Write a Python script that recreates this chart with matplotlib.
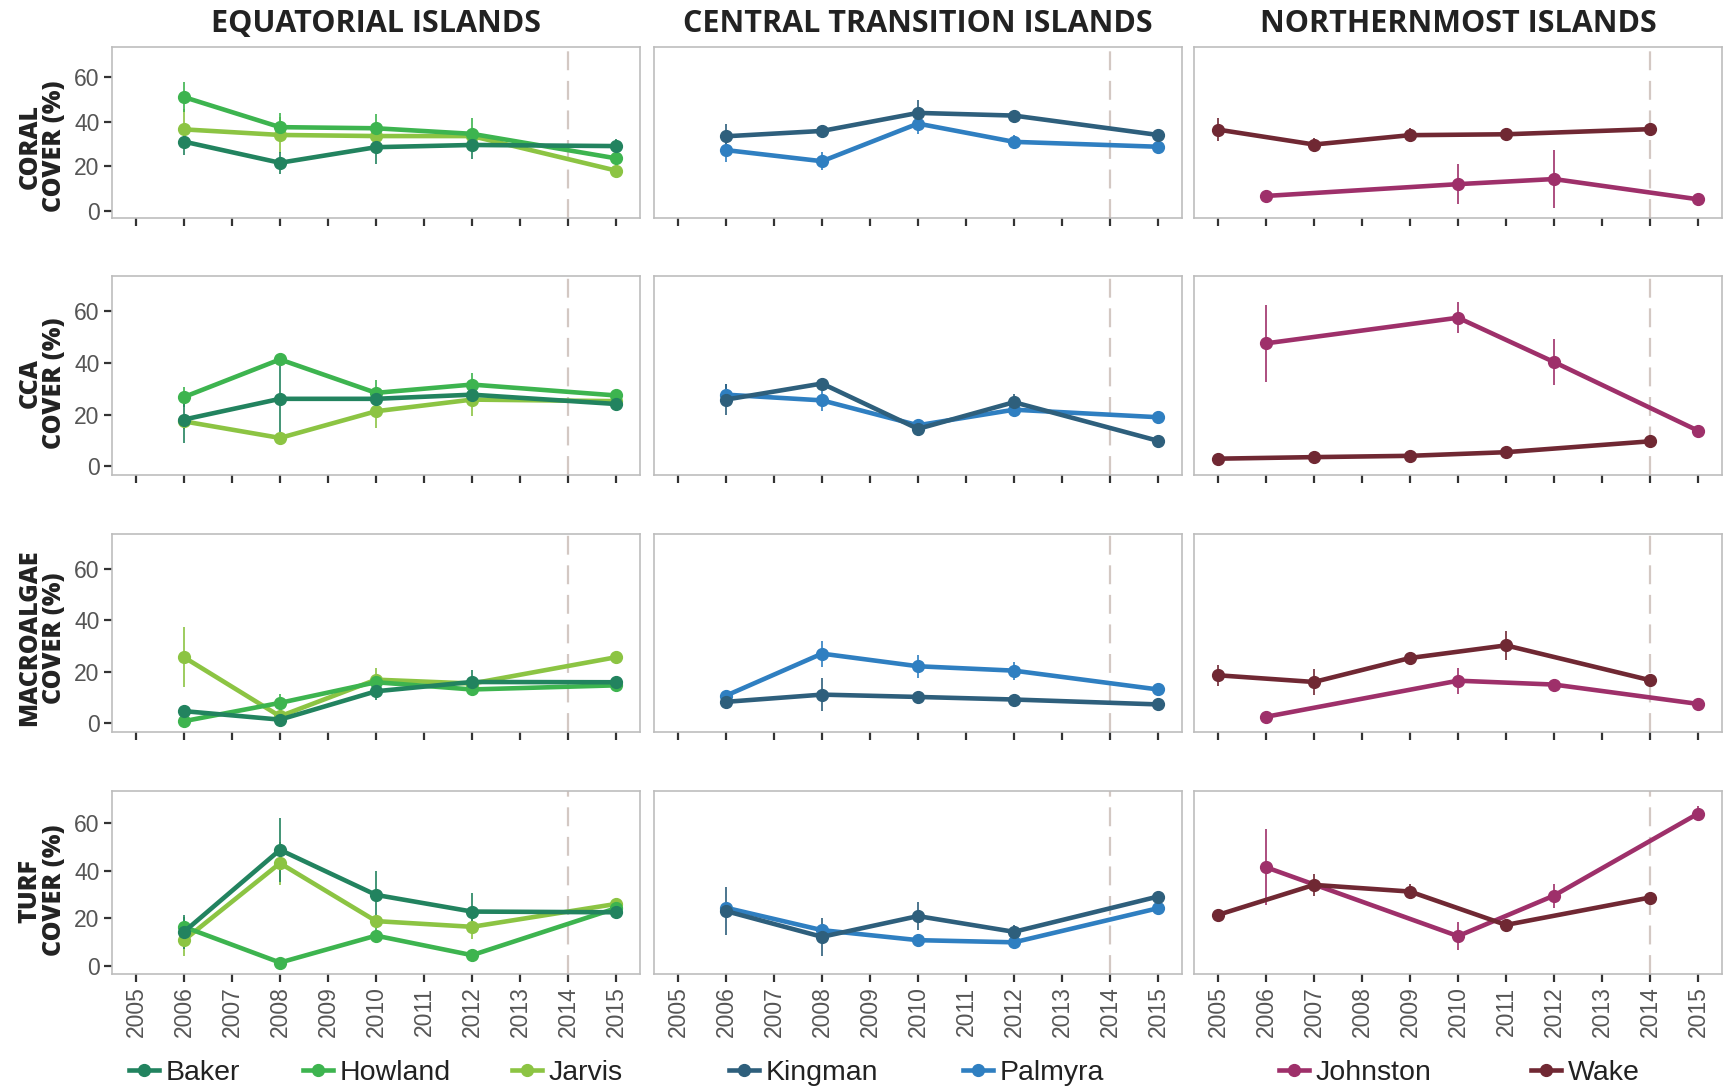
import matplotlib
matplotlib.use("Agg")
import matplotlib.pyplot as plt
from matplotlib.lines import Line2D

plt.rcParams['font.family'] = ['Liberation Sans', 'DejaVu Sans']

# ---- data: mean percent cover and error per island, rows = coral, CCA, macroalgae, turf
metrics = ["CORAL\nCOVER (%)", "CCA\nCOVER (%)", "MACROALGAE\nCOVER (%)", "TURF\nCOVER (%)"]
regions = ["EQUATORIAL ISLANDS", "CENTRAL TRANSITION ISLANDS", "NORTHERNMOST ISLANDS"]
year_ticks = list(range(2005, 2016))

years_pria = [2006, 2008, 2010, 2012, 2015]
years_johnston = [2006, 2010, 2012, 2015]
years_wake = [2005, 2007, 2009, 2011, 2014]

baker_mean = [[31.0, 21.5, 28.5, 29.5, 29.0],
              [18.1, 26.1, 26.1, 27.7, 24.1],
              [4.8, 1.5, 12.5, 16.1, 16.0],
              [14.4, 48.8, 29.9, 22.9, 22.6]]
baker_se = [[6.0, 5.0, 7.5, 6.5, 3.0],
            [9.0, 15.5, 3.0, 3.0, 1.0],
            [1.0, 1.0, 3.5, 4.5, 1.0],
            [7.0, 13.5, 10.0, 8.0, 3.0]]

howland_mean = [[51.0, 37.5, 37.0, 34.5, 23.5],
                [26.8, 41.3, 28.4, 31.6, 27.4],
                [0.9, 8.0, 16.0, 13.2, 14.8],
                [16.5, 1.5, 12.8, 4.6, 24.3]]
howland_se = [[6.8, 6.5, 6.5, 7.0, 2.0],
              [4.0, 2.0, 5.0, 4.5, 1.0],
              [0.5, 3.5, 1.5, 1.5, 1.0],
              [4.0, 0.5, 3.0, 1.0, 1.0]]

jarvis_mean = [[36.5, 34.0, 33.5, 33.5, 18.0],
               [17.4, 11.0, 21.3, 25.8, 25.2],
               [25.7, 2.8, 17.0, 15.5, 25.7],
               [10.9, 43.2, 18.9, 16.5, 26.1]]
jarvis_se = [[9.0, 8.0, 3.0, 3.0, 1.0],
             [3.0, 1.0, 6.5, 6.4, 1.0],
             [11.7, 1.0, 4.5, 1.0, 1.0],
             [6.5, 9.0, 1.5, 5.0, 1.0]]

kingman_mean = [[33.4, 35.8, 43.9, 42.7, 34.0],
                [25.8, 32.0, 14.5, 24.8, 9.9],
                [8.4, 11.2, 10.3, 9.3, 7.4],
                [23.1, 12.3, 21.0, 14.4, 29.2]]
kingman_se = [[5.5, 1.5, 6.0, 2.5, 2.5],
              [6.0, 1.0, 1.0, 3.0, 1.0],
              [1.0, 6.5, 1.0, 1.0, 1.0],
              [10.0, 8.0, 6.0, 3.0, 2.0]]

palmyra_mean = [[27.2, 22.2, 39.1, 30.9, 28.7],
                [27.7, 25.5, 15.9, 21.9, 19.0],
                [10.8, 27.1, 22.2, 20.5, 13.2],
                [24.5, 15.1, 10.9, 10.0, 24.3]]
palmyra_se = [[5.5, 4.0, 4.5, 3.0, 1.0],
              [4.0, 4.0, 1.0, 2.5, 1.0],
              [1.0, 5.0, 4.5, 3.5, 1.0],
              [1.0, 1.0, 1.0, 1.0, 1.0]]

johnston_mean = [[6.6, 11.9, 14.2, 5.1],
                 [47.5, 57.4, 40.3, 13.8],
                 [2.6, 16.6, 15.1, 7.6],
                 [41.5, 12.6, 29.6, 64.0]]
johnston_se = [[1.0, 9.0, 13.0, 1.0],
               [15.0, 6.0, 9.0, 2.0],
               [0.5, 5.0, 1.0, 1.0],
               [16.0, 6.0, 5.0, 3.0]]

wake_mean = [[36.4, 29.7, 33.9, 34.3, 36.6],
             [3.0, 3.6, 4.1, 5.5, 9.7],
             [18.7, 16.1, 25.4, 30.3, 16.8],
             [21.5, 34.1, 31.3, 17.3, 28.8]]
wake_se = [[5.0, 3.0, 3.0, 3.0, 1.0],
           [0.8, 0.8, 0.8, 0.8, 0.8],
           [4.0, 5.0, 2.5, 5.5, 1.0],
           [1.5, 4.5, 3.0, 2.0, 1.0]]

# island -> (years, mean, se, colour); listed in legend order per column
columns = [
    [("Baker", years_pria, baker_mean, baker_se, "#22835f"),
     ("Howland", years_pria, howland_mean, howland_se, "#3db44f"),
     ("Jarvis", years_pria, jarvis_mean, jarvis_se, "#8cc443")],
    [("Kingman", years_pria, kingman_mean, kingman_se, "#2e5f7c"),
     ("Palmyra", years_pria, palmyra_mean, palmyra_se, "#2f7fc1")],
    [("Johnston", years_johnston, johnston_mean, johnston_se, "#9e306a"),
     ("Wake", years_wake, wake_mean, wake_se, "#702833")],
]
# draw order inside each panel (last one ends up on top)
draw_order = [[2, 1, 0], [1, 0], [0, 1]]

# ---- layout (pixels)
W, H = 1723, 1092
col_left = [112, 654, 1194]
col_width = 528
row_top = [47, 276, 534, 791]
row_bottom = [218, 475, 732, 974]
label_shift = [14, 8, 5, 8]
legend_x = [129, 303, 512, 729, 963, 1279, 1531]
legend_y = 1073
bold_font = ["Open Sans", "DejaVu Sans"]


def px_box(left, top, width, height):
    return [left / W, 1 - (top + height) / H, width / W, height / H]


fig = plt.figure(figsize=(W / 100, H / 100), dpi=100)

for r in range(4):
    for c in range(3):
        ax = fig.add_axes(px_box(col_left[c], row_top[r], col_width, row_bottom[r] - row_top[r]))
        ax.axvline(2014, color="#d3c8c3", lw=1.6, dashes=(8.5, 4.8), zorder=1)
        for k in draw_order[c]:
            name, yrs, mean, se, col = columns[c][k]
            ax.errorbar(yrs, mean[r], yerr=se[r], color=col, lw=3.3, marker="o", ms=8.5,
                        elinewidth=1.2, capsize=0, zorder=3)
        ax.set_xlim(2004.5, 2015.5)
        ax.set_ylim(-3.3, 73.5)
        ax.set_xticks(year_ticks)
        ax.set_yticks([0, 20, 40, 60])
        for s in ax.spines.values():
            s.set_color("#bdbdbd")
            s.set_linewidth(1.2)
        ax.tick_params(axis="both", direction="out", length=6, width=1.6, color="#333333",
                       labelcolor="#555555", labelsize=16.5, pad=3)
        ax.tick_params(axis="x", labelrotation=90)
        if c > 0:
            ax.tick_params(axis="y", left=False, labelleft=False)
        if r < 3:
            ax.tick_params(axis="x", labelbottom=False)
        if c == 0:
            yc = (row_top[r] + row_bottom[r]) / 2 + label_shift[r]
            fig.text(42 / W, 1 - yc / H, metrics[r], rotation=90, ha="center", va="center",
                     multialignment="center", fontsize=18, fontweight="heavy",
                     family=bold_font, color="#222222", linespacing=0.95)

# column headings
for c in range(3):
    fig.text((col_left[c] + col_width / 2) / W, 1 - 24 / H, regions[c], ha="center", va="center",
             fontsize=22, fontweight="bold", family=bold_font, color="#222222")

# legend entries along the bottom
entries = [e for col in columns for e in col]
for (name, yrs, mean, se, col), x in zip(entries, legend_x):
    h = Line2D([], [], color=col, lw=3.3, marker="o", ms=8.5)
    fig.legend([h], [name], loc="center left", bbox_to_anchor=(x / W, 1 - legend_y / H),
               frameon=False, handlelength=1.05, handletextpad=0.25, borderpad=0,
               borderaxespad=0, fontsize=20.5, labelcolor="#222222")

fig.savefig("out.png", dpi=100)
